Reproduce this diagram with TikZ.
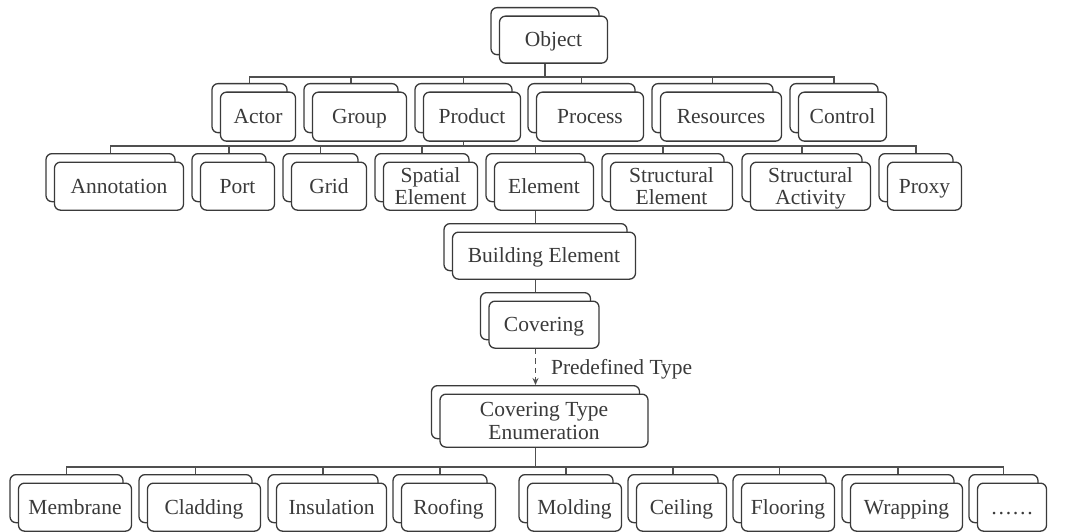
\documentclass[tikz,border=0pt]{standalone}
\usepackage{fontspec}
\setmainfont{Liberation Serif}
\usetikzlibrary{calc,arrows.meta}
\definecolor{ink}{HTML}{3A3A3A}
\definecolor{wire}{HTML}{505050}
\tikzset{
  boxbase/.style={draw=ink, line width=1.3pt, rounded corners=6pt, fill=white, inner sep=0pt, anchor=north},
  txt/.style={text=ink, font=\fontsize{21.5}{22.5}\selectfont, align=center},
  oneline/.style={text height=14.2pt, text depth=0pt},
  twoline/.style={text height=36.7pt, text depth=0pt},
  wireline/.style={draw=wire, line width=1.1pt},
}
% #1 line style, #2 name, #3 back-centre x, #4 back-top y, #5 width, #6 height, #7 text
\newcommand\dnode[7][oneline]{%
  \node[boxbase, minimum width=#5pt, minimum height=#6pt] (#2b) at (#3,#4) {};
  \node[boxbase, anchor=center, minimum width=#5pt, minimum height=#6pt, txt, #1] (#2) at ($(#2b.center)+(8.5,8.5)$) {#7};
}
% parent, bar, child
\newcommand\link[3]{%
  \draw[wireline] (#1b.center |- #1.south) -- (#1b.center |- #2) -| (#3b.north);
}
\begin{document}
\begin{tikzpicture}[x=1pt,y=-1pt]
\useasboundingbox (0,0) rectangle (1065,532);
\coordinate (bar1) at (0,77);
\coordinate (bar2) at (0,146);
\coordinate (bar4) at (0,467);

\dnode{obj}{545}{7}{108}{47}{Object}

\dnode{actor}{249.5}{83}{75}{49}{Actor}
\dnode{group}{351}{83}{94}{49}{Group}
\dnode{product}{463.5}{83}{97}{49}{Product}
\dnode{process}{581.5}{83}{107}{49}{Process}
\dnode{resources}{712.5}{83}{121}{49}{Resources}
\dnode{control}{834}{83}{88}{49}{Control}

\dnode{annot}{110.5}{153}{129}{48}{Annotation}
\dnode{port}{229}{153}{74}{48}{Port}
\dnode{grid}{320.5}{153}{75}{48}{Grid}
\dnode[twoline]{spatial}{422}{153}{94}{48}{Spatial\\Element}
\dnode{element}{535.5}{153}{99}{48}{Element}
\dnode[twoline]{structel}{663}{153}{122}{48}{Structural\\Element}
\dnode[twoline]{structact}{802}{153}{120}{48}{Structural\\Activity}
\dnode{proxy}{916}{153}{74}{48}{Proxy}

\dnode{building}{535.5}{223}{183}{47}{Building Element}
\dnode{covering}{535.5}{292}{110}{47}{Covering}
\dnode[twoline]{cte}{535.5}{385}{208}{53}{Covering Type\\Enumeration}

\dnode{membrane}{66.5}{474}{113}{48}{Membrane}
\dnode{cladding}{195.5}{474}{113}{48}{Cladding}
\dnode{insulation}{323}{474}{110}{48}{Insulation}
\dnode{roofing}{440}{474}{94}{48}{Roofing}
\dnode{molding}{566}{474}{94}{48}{Molding}
\dnode{ceiling}{673}{474}{90}{48}{Ceiling}
\dnode{flooring}{779.5}{474}{93}{48}{Flooring}
\dnode{wrapping}{898}{474}{112}{48}{Wrapping}
\dnode{dots}{1003.5}{474}{69}{48}{……}

\foreach \c in {actor,group,product,process,resources,control} {\link{obj}{bar1}{\c}}
\foreach \c in {annot,port,grid,spatial,element,structel,structact,proxy} {\link{product}{bar2}{\c}}
\draw[wireline] (elementb.center |- element.south) -- (buildingb.north);
\draw[wireline] (buildingb.center |- building.south) -- (coveringb.north);
\draw[wireline, dash pattern=on 5.5pt off 4pt, -{Stealth[length=7pt,width=6pt]}] (coveringb.center |- covering.south) -- (cteb.north)
  node[midway, right=15pt, txt, oneline, inner sep=0pt] (pdt) {Predefined Type};
\foreach \c in {membrane,cladding,insulation,roofing,molding,ceiling,flooring,wrapping,dots} {\link{cte}{bar4}{\c}}
\end{tikzpicture}
\end{document}
